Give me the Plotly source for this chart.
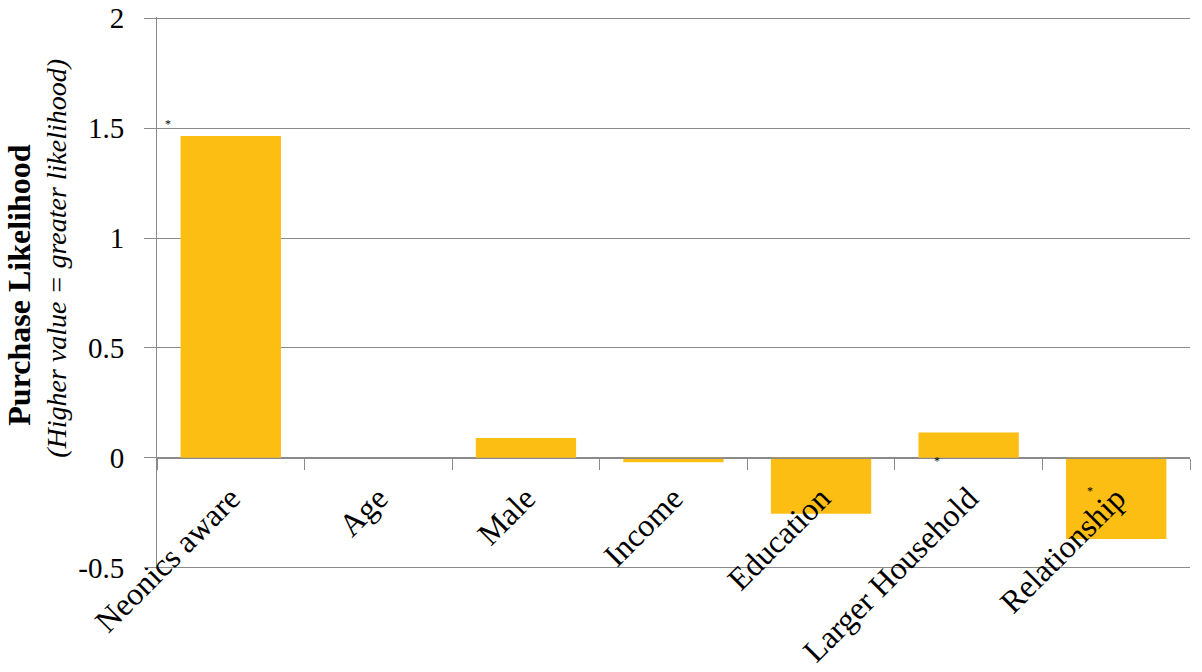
import plotly.graph_objects as go

categories = ["Neonics aware", "Age", "Male", "Income", "Education", "Larger Household", "Relationship"]
values = [1.464, 0.0, 0.09, -0.02, -0.255, 0.115, -0.37]
y_ticks = [-0.5, 0, 0.5, 1, 1.5, 2]
y_tick_labels = ["-0.5", "0", "0.5", "1", "1.5", "2"]
sig_cats = ["Neonics aware", "Larger Household", "Relationship"]

BAR_COLOR = "#FDBE14"
GRID = "#8a8a8a"
FONT = "Liberation Serif"
Y_MIN, Y_MAX = -0.5, 2.0
PAD = 0.006

fig = go.Figure()
fig.add_trace(go.Bar(
    x=categories, y=values,
    marker=dict(color=BAR_COLOR, line=dict(width=0)),
    showlegend=False, hoverinfo="skip",
))

# significance stars (offsets relative to each bar)
star_shift = {
    "Neonics aware": dict(xshift=-63, yshift=12, yval=values[0]),
    "Larger Household": dict(xshift=-32, yshift=-3, yval=0),
    "Relationship": dict(xshift=-26, yshift=-33, yval=0),
}
for c in sig_cats:
    s = star_shift[c]
    fig.add_annotation(x=c, y=s["yval"], text="*", showarrow=False,
                       xshift=s["xshift"], yshift=s["yshift"],
                       font=dict(family=FONT, size=12, color="black"))

# y-axis title (two lines)
fig.add_annotation(xref="paper", yref="paper", x=-0.1336, y=0.515,
                   text="<b>Purchase Likelihood</b>", textangle=-90,
                   showarrow=False, xanchor="center", yanchor="middle",
                   font=dict(family=FONT, size=32, color="black"))
fig.add_annotation(xref="paper", yref="paper", x=-0.0968, y=0.562,
                   text="<i>(Higher value = greater likelihood)</i>", textangle=-90,
                   showarrow=False, xanchor="center", yanchor="middle",
                   font=dict(family=FONT, size=28, color="black"))

zero_frac = (0 - (Y_MIN - PAD)) / ((Y_MAX + PAD) - (Y_MIN - PAD))

fig.update_layout(
    width=1202, height=672,
    margin=dict(l=157, r=12, t=17, b=103),
    paper_bgcolor="white", plot_bgcolor="white",
    bargap=0.32,
    xaxis=dict(
        type="category", automargin=False,
        anchor="free", position=zero_frac,
        showgrid=False, showline=True, linecolor=GRID, linewidth=1,
        ticks="outside", tickson="boundaries", ticklen=11, tickcolor=GRID,
        tickangle=-45, ticklabelstandoff=8,
        tickfont=dict(family=FONT, size=32, color="black"),
    ),
    yaxis=dict(
        automargin=False,
        range=[Y_MIN - PAD, Y_MAX + PAD],
        tickvals=y_ticks, ticktext=y_tick_labels,
        showgrid=True, gridcolor=GRID, gridwidth=1,
        zeroline=True, zerolinecolor=GRID, zerolinewidth=1,
        showline=True, linecolor=GRID, linewidth=1,
        ticks="outside", ticklen=12, tickcolor=GRID,
        ticklabelstandoff=14,
        tickfont=dict(family=FONT, size=29, color="black"),
    ),
)

fig.write_html("out.html", config={"displayModeBar": False},
               post_script="document.body.style.margin='0';")
